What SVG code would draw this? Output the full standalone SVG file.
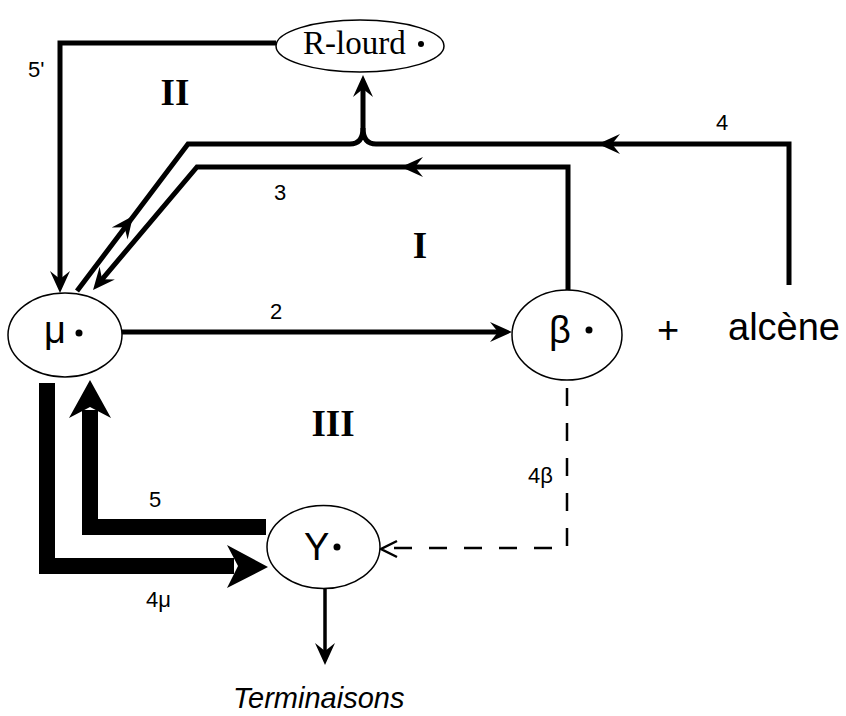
<svg xmlns="http://www.w3.org/2000/svg" xmlns:xlink="http://www.w3.org/1999/xlink" width="846" height="716" viewBox="0 0 846 716">
<style>
.node{fill:#fff;stroke:#000;stroke-width:1.5}
.ln{fill:none;stroke:#000;stroke-width:5;stroke-linejoin:miter}
.thick{fill:none;stroke:#000;stroke-width:16;stroke-linejoin:miter}
.dash{fill:none;stroke:#000;stroke-width:2.5;stroke-dasharray:18 17}
.sans{font-family:"Liberation Sans",Arial,sans-serif;fill:#000}
.serif{font-family:"Liberation Serif","Times New Roman",serif;fill:#000}
.lab{font-family:"Liberation Sans",Arial,sans-serif;font-size:22px;fill:#000}
.roman{font-family:"Liberation Serif","Times New Roman",serif;font-weight:bold;font-size:37px;fill:#000}
.nl{font-family:"Liberation Sans",Arial,sans-serif;font-size:38px;fill:#000}
</style>
<defs>
<path id="ah" d="M0,0 L-22,-10 L-14,0 L-22,10 Z" fill="#000"/>
<marker id="arr" viewBox="-24 -12 26 24" refX="-12" refY="0" markerWidth="26" markerHeight="24" orient="auto" markerUnits="userSpaceOnUse">
<path d="M0,0 L-22,-10 L-14,0 L-22,10 Z" fill="#000"/>
</marker>
</defs>

<g id="connectors">
<!-- 5' : R-lourd -> mu -->
<path id="e-5prime" class="ln" d="M276,43 H60 V281" marker-end="url(#arr)"/>
<!-- 4 : alcene -> R-lourd -->
<path id="e-4" class="ln" d="M789,285 V144 H376 Q363,144 363,128 V87" marker-end="url(#arr)"/>
<use href="#ah" xlink:href="#ah" transform="translate(598,144) rotate(180)"/>
<!-- mu -> R-lourd branch -->
<path id="e-mu-rlourd" class="ln" d="M77,291 L188,144 H350 Q363,144 363,128"/>
<use href="#ah" xlink:href="#ah" transform="translate(133,216) rotate(-52.7)"/>
<!-- 3 : beta -> mu -->
<path id="e-3" class="ln" d="M568,290 V167 H197 L100.8,280.8" marker-end="url(#arr)"/>
<use href="#ah" xlink:href="#ah" transform="translate(401,167) rotate(180)"/>
<!-- 2 : mu -> beta -->
<path id="e-2" class="ln" d="M122,332 H500" marker-end="url(#arr)"/>
<!-- 4beta dashed : beta -> Y -->
<path id="e-4beta" class="dash" d="M567,388 V548 H384"/>
<path d="M397,541 L381,549 L397,557" fill="none" stroke="#000" stroke-width="2.5"/>
<!-- 4mu thick -->
<path id="e-4mu" class="thick" d="M47,383 V566 H234"/>
<polygon points="268,567 227,545 238,566 227,588" fill="#000"/>
<!-- 5 thick -->
<path id="e-5" class="thick" d="M266,527 H90 V410"/>
<polygon points="90,380 69,418 90,407 111,418" fill="#000"/>
<!-- terminations -->
<path id="e-term" d="M325,589 V653" fill="none" stroke="#000" stroke-width="3.5" marker-end="url(#arr)"/>
<!-- edge labels -->
<text class="lab" x="28" y="77">5'</text>
<text class="lab" x="722" y="130" text-anchor="middle">4</text>
<text class="lab" x="280" y="200" text-anchor="middle">3</text>
<text class="lab" x="276" y="319" text-anchor="middle">2</text>
<text class="lab" x="528" y="483">4β</text>
<text class="lab" x="155" y="507" text-anchor="middle">5</text>
<text class="lab" x="146" y="607">4μ</text>
</g>

<g id="regions">
<text class="roman" x="175" y="105" text-anchor="middle">II</text>
<text class="roman" x="420" y="258" text-anchor="middle">I</text>
<text class="roman" x="333" y="436" text-anchor="middle">III</text>
</g>

<g id="node-rlourd">
<ellipse class="node" cx="360" cy="46" rx="84" ry="26"/>
<text class="serif" x="303" y="54" font-size="33">R-lourd</text>
<circle cx="421" cy="44" r="3"/>
</g>

<g id="node-mu">
<ellipse class="node" cx="65" cy="335" rx="57" ry="42"/>
<text class="nl" x="44" y="343" font-size="38">μ</text>
<circle cx="79" cy="333" r="3.5"/>
</g>

<g id="node-beta">
<ellipse class="node" cx="567" cy="335" rx="55" ry="45"/>
<text class="nl" x="549" y="343" font-size="40">β</text>
<circle cx="589" cy="330" r="3.5"/>
</g>

<g id="node-alcene">
<text class="nl" x="668" y="343" text-anchor="middle" font-size="40">+</text>
<text class="nl" x="728" y="340">alcène</text>
</g>

<g id="node-y">
<ellipse class="node" cx="323.5" cy="547" rx="56.5" ry="41.5"/>
<text class="nl" x="304" y="560" font-size="40">Y</text>
<circle cx="337" cy="547" r="3.5"/>
</g>

<g id="node-terminaisons">
<text class="sans" x="233" y="708" font-size="29" font-style="italic">Terminaisons</text>
</g>
</svg>
